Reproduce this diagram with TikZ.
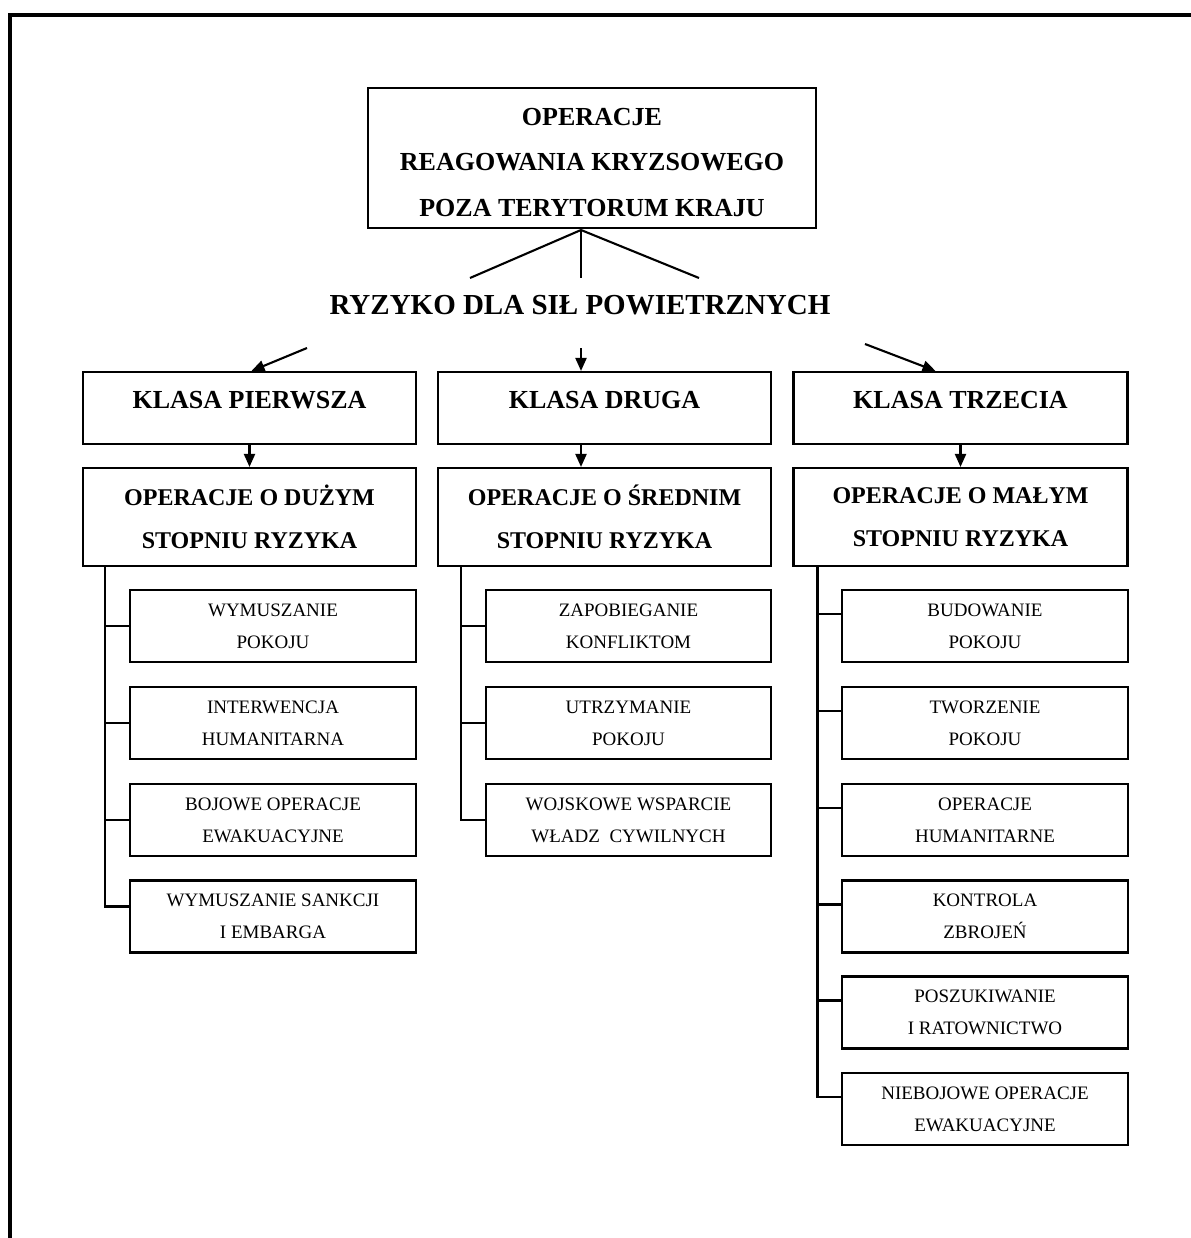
\documentclass[tikz,border=0pt]{standalone}
\usepackage{fontspec}
\setmainfont{Liberation Serif}
\usetikzlibrary{arrows.meta,calc}

\begin{document}
\begin{tikzpicture}[x=1pt,y=-1pt,
  box/.style={draw,line width=2.1pt,rectangle,inner sep=0pt,align=center},
  topbox/.style={box,minimum width=448,minimum height=140,
    font=\bfseries\fontsize{26}{45.5}\selectfont},
  classbox/.style={box,minimum width=333,minimum height=72,
    text height=17,text depth=16,font=\bfseries\fontsize{26}{30}\selectfont},
  opbox/.style={box,minimum width=333,minimum height=98,
    font=\bfseries\fontsize{24}{43}\selectfont},
  itembox/.style={box,minimum width=286,minimum height=72,
    font=\fontsize{19}{32}\selectfont},
  link/.style={line width=2.1pt},
  arr/.style={line width=2.1pt,-{Triangle[length=13pt,width=11pt]}}
]
\useasboundingbox (0,0) rectangle (1190,1238);

% outer frame
\draw[line width=4] (10,1240) -- (10,15) -- (1192,15);

% root
\node[topbox] (top) at (592,158)
  {\rule{0pt}{26pt}OPERACJE\\REAGOWANIA KRYZSOWEGO\\POZA TERYTORUM KRAJU};
\node[font=\bfseries\fontsize{29}{34}\selectfont] (risk) at (580,305)
  {RYZYKO DLA SIŁ POWIETRZNYCH};

% fan of lines under the root
\coordinate (apex) at (581,230);
\coordinate (fl) at (470,278);
\coordinate (fm) at (581,278);
\coordinate (fr) at (699,278);
\draw[link] (apex) -- (fl);
\draw[link] (apex) -- (fm);
\draw[link] (apex) -- (fr);

% classes
\node[classbox] (k1) at (249.5,408) {KLASA PIERWSZA};
\node[classbox] (k2) at (604.5,408) {KLASA DRUGA};
\node[classbox,minimum width=334] (k3) at (960.5,408) {KLASA TRZECIA};

\coordinate (a1) at (307,348);
\coordinate (a2) at (581,348);
\coordinate (a3) at (865,344);
\draw[arr] (a1) -- ($(k1.north)+(2,0)$);
\draw[arr] (a2) -- (a2 |- k2.north);
\draw[arr] (a3) -- ($(k3.north)+(-25,0)$);

% risk levels
\node[opbox] (o1) at (249.5,517) {OPERACJE O DUŻYM\\STOPNIU RYZYKA};
\node[opbox] (o2) at (604.5,517) {OPERACJE O ŚREDNIM\\STOPNIU RYZYKA};
\node[opbox,minimum width=334] (o3) at (960.5,517) {OPERACJE O MAŁYM\\STOPNIU RYZYKA};

\draw[arr] (k1.south) -- (o1.north);
\draw[arr] (a2 |- k2.south) -- (a2 |- o2.north);
\draw[arr] (k3.south) -- (o3.north);

% column 1
\node[itembox] (s11) at (273,626) {WYMUSZANIE\\POKOJU};
\node[itembox] (s12) at (273,723) {INTERWENCJA\\HUMANITARNA};
\node[itembox] (s13) at (273,820) {BOJOWE OPERACJE\\EWAKUACYJNE};
\node[itembox] (s14) at (273,916.5) {WYMUSZANIE SANKCJI\\I EMBARGA};

% column 2
\node[itembox,minimum width=285] (s21) at (628.5,626) {ZAPOBIEGANIE\\KONFLIKTOM};
\node[itembox,minimum width=285] (s22) at (628.5,723) {UTRZYMANIE\\POKOJU};
\node[itembox,minimum width=285] (s23) at (628.5,820) {WOJSKOWE WSPARCIE\\WŁADZ\ \ CYWILNYCH};

% column 3
\node[itembox] (s31) at (985,626) {BUDOWANIE\\POKOJU};
\node[itembox] (s32) at (985,723) {TWORZENIE\\POKOJU};
\node[itembox] (s33) at (985,820) {OPERACJE\\HUMANITARNE};
\node[itembox] (s34) at (985,916.5) {KONTROLA\\ZBROJEŃ};
\node[itembox] (s35) at (985,1012.5) {POSZUKIWANIE\\I RATOWNICTWO};
\node[itembox] (s36) at (985,1109) {NIEBOJOWE OPERACJE\\EWAKUACYJNE};

% tree connectors
\coordinate (sp1) at ($(o1.south west)+(23,0)$);
\coordinate (sp2) at ($(o2.south west)+(24,0)$);
\coordinate (sp3) at ($(o3.south west)+(25,0)$);

\draw[link] (sp1) |- ($(s14.west)+(0,-10)$);
\foreach \i in {1,2,3} \draw[link] (s1\i.west) -- (s1\i.west -| sp1);

\draw[link] (sp2) |- (s23.west);
\foreach \i in {1,2} \draw[link] (s2\i.west) -- (s2\i.west -| sp2);

\draw[link] (sp3) |- ($(s36.west)+(0,-12)$);
\foreach \i in {1,2,3,4,5} \draw[link] ($(s3\i.west)+(0,-12)$) -- ($(s3\i.west -| sp3)+(0,-12)$);

\end{tikzpicture}
\end{document}
